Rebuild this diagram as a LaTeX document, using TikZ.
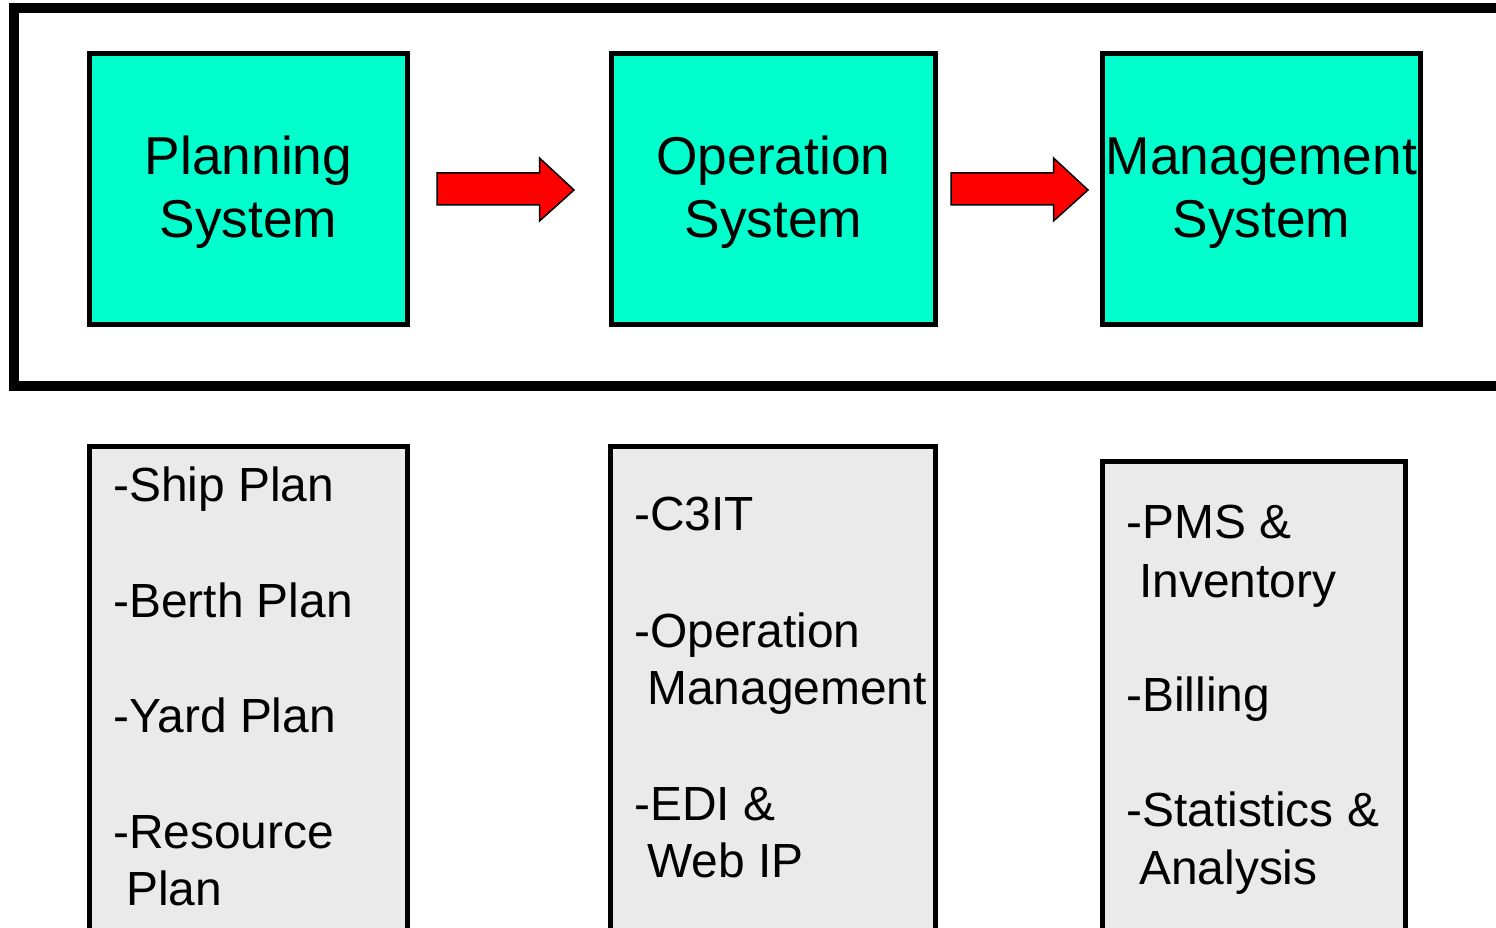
\documentclass[tikz,border=0pt]{standalone}
\usepackage{fontspec}
\setmainfont{Liberation Sans}
\definecolor{topfill}{RGB}{0,255,204}
\definecolor{lowfill}{RGB}{234,234,234}
\begin{document}
\begin{tikzpicture}[x=1pt,y=-1pt,
  topbox/.style={draw=black,line width=5pt,fill=topfill,anchor=north west,inner sep=0pt,outer sep=0pt},
  lowbox/.style={draw=black,line width=5pt,fill=lowfill,anchor=north west,inner sep=0pt,outer sep=0pt},
  toptext/.style={anchor=base,inner sep=0pt,font=\fontsize{53.3}{62}\selectfont},
  lowtext/.style={anchor=base west,inner sep=0pt,font=\fontsize{47.9}{57}\selectfont},
  blockarrow/.style={draw=black,line width=1.5pt,fill=red,line join=miter}]
\useasboundingbox (0,0) rectangle (1496,928);
% outer frame
\node[draw=black,line width=10pt,anchor=north west,inner sep=0pt,outer sep=0pt,minimum width=1520pt,minimum height=378pt] (frame) at (14,8) {};
% top boxes
\node[topbox,minimum width=318pt,minimum height=271pt] (plan) at (89.5,53.5) {};
\node[topbox,minimum width=324pt,minimum height=271pt] (oper) at (611.5,53.5) {};
\node[topbox,minimum width=318pt,minimum height=271pt] (mgmt) at (1102.5,53.5) {};
\node[toptext] (plan1) at (248.5,175) {Planning};
\node[toptext] (plan2) at (248.5,237) {System};
\node[toptext] (oper1) at (773.5,175) {Operation};
\node[toptext] (oper2) at (773.5,237) {System};
\node[toptext] (mgmt1) at (1261.5,175) {Management};
\node[toptext] (mgmt2) at (1261.5,237) {System};
% arrows
\draw[blockarrow] (437,173) -- (539.5,173) -- (539.5,158) -- (574,190) -- (539.5,221) -- (539.5,205) -- (437,205) -- cycle;
\draw[blockarrow] (951,173) -- (1053.5,173) -- (1053.5,158) -- (1088,190) -- (1053.5,221) -- (1053.5,205) -- (951,205) -- cycle;
% lower boxes
\node[lowbox,minimum width=318pt,minimum height=520pt] (lplan) at (89.5,446.5) {};
\node[lowbox,minimum width=325pt,minimum height=520pt] (loper) at (610.5,446.5) {};
\node[lowbox,minimum width=303pt,minimum height=520pt] (lmgmt) at (1102.5,461.5) {};
% lower texts
\node[lowtext] (a1) at (113,501) {-Ship Plan};
\node[lowtext] (a2) at (113,617) {-Berth Plan};
\node[lowtext] (a3) at (113,732) {-Yard Plan};
\node[lowtext] (a4) at (113,848) {-Resource};
\node[lowtext] (a5) at (126,905) {Plan};
\node[lowtext] (b1) at (634,530) {-C3IT};
\node[lowtext] (b2) at (634,647) {-Operation};
\node[lowtext] (b3) at (647,704) {Management};
\node[lowtext] (b4) at (634,820) {-EDI \&};
\node[lowtext] (b5) at (647,877) {Web IP};
\node[lowtext] (c1) at (1126,538) {-PMS \&};
\node[lowtext] (c2) at (1139,597) {Inventory};
\node[lowtext] (c3) at (1126,711) {-Billing};
\node[lowtext] (c4) at (1126,826) {-Statistics \&};
\node[lowtext] (c5) at (1139,884) {Analysis};
\end{tikzpicture}
\end{document}
